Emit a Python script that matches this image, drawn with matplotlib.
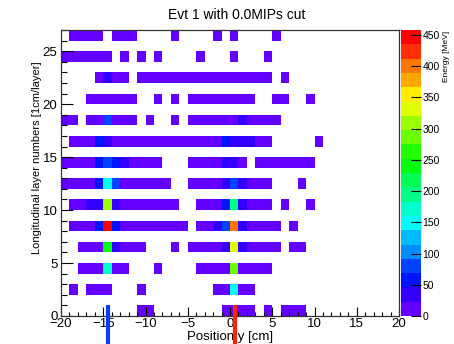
import colorsys
import numpy as np
import matplotlib
matplotlib.use("Agg")
import matplotlib.pyplot as plt
import matplotlib.colors as mcolors
from matplotlib.ticker import MultipleLocator

plt.rcParams['font.family'] = ['Liberation Sans', 'DejaVu Sans']

# hits per layer: x bin low edge [cm] and energy [MeV]
layers = [0, 2, 4, 6, 8, 10, 12, 14, 16, 18, 20, 22, 24, 26]

x_l0 = [-11, -10, -1, 0, 1, 2, 4, 6, 7, 8]
e_l0 = [9, 12, 8, 14, 11, 7, 6, 10, 9, 5]
x_l2 = [-19, -17, -16, -15, -11, -2, -1, 0, 1, 2]
e_l2 = [6, 10, 13, 18, 7, 9, 15, 148, 14, 8]
x_l4 = [-18, -17, -16, -15, -14, -13, -9, -4, -3, -2, -1, 0, 1, 2, 3, 4]
e_l4 = [8, 12, 16, 172, 15, 9, 6, 7, 11, 13, 17, 286, 16, 12, 9, 6]
x_l6 = [-18, -17, -16, -15, -14, -13, -12, -11, -7, -5, -4, -3, -2, -1,
        0, 1, 2, 3, 4, 5, 7, 8]
e_l6 = [9, 13, 18, 240, 34, 15, 10, 7, 6, 8, 11, 14, 19, 34,
        332, 34, 17, 12, 9, 6, 8, 5]
x_l8 = [-19, -18, -17, -16, -15, -14, -13, -12, -11, -10, -9, -8, -7, -6,
        -4, -3, -2, -1, 0, 1, 2, 3, 4, 5, 7]
e_l8 = [7, 10, 16, 57, 450, 57, 18, 13, 10, 8, 7, 6, 9, 5,
        12, 17, 34, 80, 400, 34, 19, 14, 10, 7, 6]
x_l10 = [-19, -18, -17, -16, -15, -14, -13, -12, -11, -10, -9, -8, -7,
         -4, -3, -2, -1, 0, 1, 2, 3, 4, 6, 9]
e_l10 = [8, 12, 34, 34, 298, 34, 17, 12, 10, 8, 7, 6, 9,
         10, 14, 19, 57, 194, 34, 18, 12, 8, 6, 5]
x_l12 = [-20, -19, -18, -17, -16, -15, -14, -13, -12, -11, -10, -9, -8,
         -5, -4, -3, -2, -1, 0, 1, 2, 3, 4, 8]
e_l12 = [6, 9, 13, 18, 57, 160, 80, 19, 14, 11, 9, 7, 6,
         8, 12, 16, 20, 34, 80, 34, 18, 12, 9, 5]
x_l14 = [-20, -19, -18, -17, -16, -15, -14, -13, -12, -11, -10, -9,
         -5, -4, -3, -2, -1, 0, 1, 3, 4, 5, 6, 7, 8, 9]
e_l14 = [5, 8, 12, 17, 57, 80, 57, 34, 16, 11, 8, 6,
         9, 13, 17, 21, 34, 34, 19, 14, 11, 9, 7, 6, 5, 5]
x_l16 = [-19, -18, -17, -16, -15, -14, -13, -12, -11, -10, -9, -8, -7, -6,
         -5, -4, -3, -2, -1, 0, 1, 2, 3, 4, 10]
e_l16 = [6, 9, 14, 57, 34, 18, 13, 10, 8, 7, 6, 7, 9, 10,
         12, 14, 17, 20, 57, 34, 34, 34, 16, 10, 5]
x_l18 = [-20, -19, -17, -16, -15, -14, -13, -12, -10, -7, -5, -4, -3, -2,
         -1, 0, 1, 2, 3, 4, 5]
e_l18 = [5, 7, 10, 15, 80, 16, 11, 8, 6, 7, 8, 11, 14, 17,
         20, 21, 34, 18, 13, 9, 6]
x_l20 = [-17, -16, -15, -14, -13, -12, -9, -7, -5, -4, -3, -2, -1, 0, 1, 2,
         5, 6, 9]
e_l20 = [6, 9, 13, 15, 10, 7, 6, 5, 8, 10, 13, 16, 19, 21, 15, 11,
         7, 6, 5]
x_l22 = [-16, -15, -14, -13, -11, -10, -9, -8, -7, -6, -5, -4, -3, -2, -1,
         0, 1, 2, 3, 4, 6]
e_l22 = [12, 34, 16, 11, 6, 7, 8, 9, 10, 11, 12, 14, 16, 18, 20,
         21, 19, 15, 11, 8, 5]
x_l24 = [-20, -19, -18, -17, -16, -15, -13, -11, -9, -4, 0, 4]
e_l24 = [5, 7, 9, 11, 14, 17, 10, 8, 6, 7, 12, 6]
x_l26 = [-19, -18, -17, -16, -14, -13, -12, -7, -2, 0, 5]
e_l26 = [6, 8, 10, 12, 14, 11, 9, 7, 8, 10, 5]

hits_x = [x_l0, x_l2, x_l4, x_l6, x_l8, x_l10, x_l12, x_l14, x_l16, x_l18,
          x_l20, x_l22, x_l24, x_l26]
hits_e = [e_l0, e_l2, e_l4, e_l6, e_l8, e_l10, e_l12, e_l14, e_l16, e_l18,
          e_l20, e_l22, e_l24, e_l26]

# marker positions of the two incoming particles [cm]
truth_x = [-14.45, 0.55]
truth_col = ['#0a3cff', '#ff2010']

z_max = 458
cbar_ticks = [0, 50, 100, 150, 200, 250, 300, 350, 400, 450]

x_edges = np.arange(-20, 21)
y_edges = np.arange(0, 28)
grid = np.full((len(y_edges) - 1, len(x_edges) - 1), np.nan)
for layer, xs, es in zip(layers, hits_x, hits_e):
    for x, e in zip(xs, es):
        grid[layer, x + 20] = e

# ROOT style pretty palette: 50 hues, 20 contour levels
ndiv, ncol = 20, 50
pal = []
for k in range(ndiv):
    idx = int((k + 0.99) * ncol / ndiv)
    hue = 280.0 - (idx + 1) * 280.0 / ncol
    pal.append(colorsys.hls_to_rgb(hue / 360.0, 0.5, 1.0))
cmap = mcolors.ListedColormap(pal)
norm = mcolors.BoundaryNorm(np.linspace(0, z_max, ndiv + 1), ndiv)

fig = plt.figure(figsize=(4.54, 3.44), dpi=100)
ax = fig.add_axes([61 / 454, 1 - 316 / 344, 338 / 454, 286 / 344])
mesh = ax.pcolormesh(x_edges, y_edges, np.ma.masked_invalid(grid),
                     cmap=cmap, norm=norm, edgecolors='none', antialiased=False)
ax.set_xlim(-20, 20)
ax.set_ylim(0, 27)

ax.xaxis.set_major_locator(MultipleLocator(5))
ax.xaxis.set_minor_locator(MultipleLocator(1))
ax.yaxis.set_major_locator(MultipleLocator(5))
ax.yaxis.set_minor_locator(MultipleLocator(1))
ax.tick_params(axis='x', which='major', direction='in', length=6.5, width=0.8,
               labelsize=9.5, pad=1.5)
ax.tick_params(axis='x', which='minor', direction='in', length=3.2, width=0.8)
ax.tick_params(axis='y', which='major', direction='in', length=8.5, width=0.8,
               labelsize=9.5, pad=2.5)
ax.tick_params(axis='y', which='minor', direction='in', length=4.5, width=0.8)
for sp in ax.spines.values():
    sp.set_linewidth(0.9)
    sp.set_color('#333333')

ax.set_xlabel('Position y [cm]', fontsize=9.5)
ax.xaxis.set_label_coords(0.5, -0.053)
ax.set_ylabel('Longitudinal layer numbers [1cm/layer]', fontsize=8)
ax.yaxis.set_label_coords(-0.055, 0.554)

fig.text(237 / 454, 1 - 15 / 344, 'Evt 1 with 0.0MIPs cut', fontsize=10,
         ha='center', va='center')

for x, c in zip(truth_x, truth_col):
    ax.plot([x, x], [1.0, -4.0], color=c, lw=3, clip_on=False, zorder=10,
            solid_capstyle='butt')

cax = fig.add_axes([401 / 454, 1 - 316 / 344, 20 / 454, 286 / 344])
cb = fig.colorbar(mesh, cax=cax, ticks=cbar_ticks)
cb.outline.set_visible(False)
cax.tick_params(direction='in', length=7, width=0.8, labelsize=7.5, pad=1)
cax.minorticks_off()
fig.text(447 / 454, 1 - 31 / 344, 'Energy [MeV]', fontsize=6, rotation=90,
         ha='center', va='top')

fig.savefig('out.png', dpi=100, facecolor='white')
